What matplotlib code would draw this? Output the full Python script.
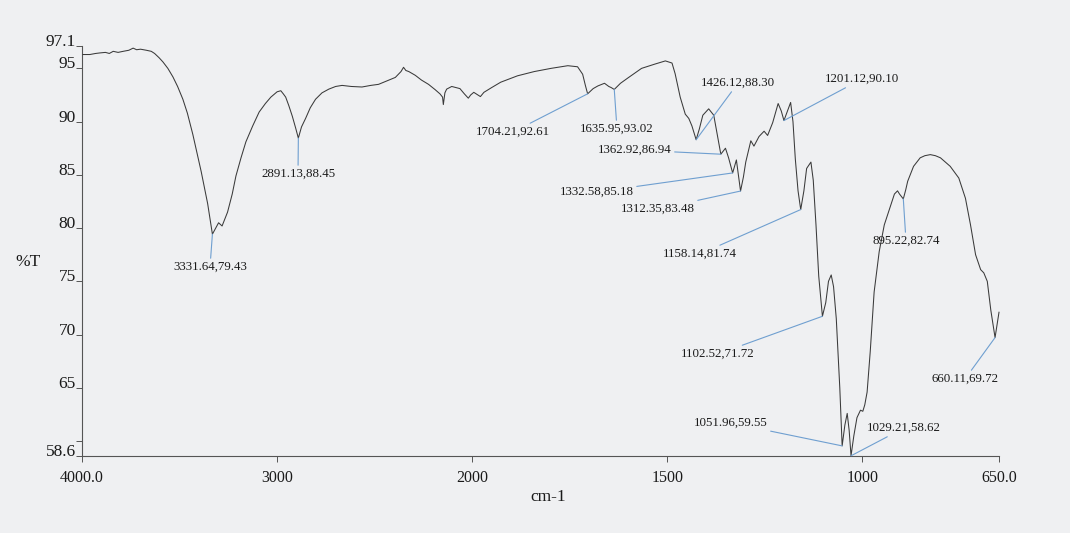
import numpy as np
import matplotlib
matplotlib.use("Agg")
import matplotlib.pyplot as plt

# ---- traced spectrum (wavenumber cm-1, %T) ----
wavenumber = [
    3995, 3960, 3930, 3908, 3880, 3860, 3840, 3815, 3789, 3760, 3738, 3720,
    3700, 3670, 3645, 3628, 3605, 3585, 3560, 3534, 3510, 3483, 3460, 3432,
    3410, 3389, 3370, 3356, 3345, 3300, 3282, 3254, 3230, 3211, 3185, 3160,
    3125, 3092, 3060, 3032, 3000, 2981, 2968, 2956, 2940, 2922, 2905, 2875,
    2854, 2830, 2803, 2770, 2735, 2700, 2667, 2620, 2565, 2520, 2480, 2440,
    2394, 2365, 2352, 2340, 2325, 2292, 2260, 2224, 2190, 2165, 2152, 2148,
    2140, 2131, 2105, 2085, 2063, 2040, 2020, 2008, 1996, 1979, 1970, 1950,
    1927, 1884, 1841, 1798, 1755, 1730, 1717, 1710, 1690, 1678, 1661, 1650,
    1644, 1620, 1601, 1566, 1532, 1505, 1488, 1480, 1467, 1454, 1445, 1437,
    1418, 1409, 1394, 1381, 1372, 1351, 1343, 1323, 1305, 1299, 1286, 1278,
    1265, 1252, 1243, 1230, 1216, 1208, 1193, 1184, 1178, 1172, 1165, 1150,
    1143, 1132, 1126, 1119, 1112, 1094, 1087, 1080, 1074, 1067, 1058, 1045,
    1039, 1034, 1022, 1014, 1005, 999, 994, 988, 980, 970, 957, 944,
    927, 918, 910, 905, 889, 884, 869, 852, 840, 826, 813, 800,
    775, 753, 736, 723, 710, 697, 689, 680, 671, 650,
]
transmittance = [
    96.3, 96.3, 96.4, 96.45, 96.5, 96.4, 96.6, 96.5, 96.6, 96.7, 96.9, 96.75,
    96.8, 96.7, 96.6, 96.4, 96.0, 95.6, 95.0, 94.2, 93.3, 92.1, 90.8, 88.8,
    87.0, 85.3, 83.6, 82.3, 81.0, 80.5, 80.2, 81.5, 83.2, 84.9, 86.6, 88.1,
    89.6, 90.9, 91.7, 92.3, 92.8, 92.9, 92.6, 92.3, 91.5, 90.5, 89.4, 89.5,
    90.3, 91.3, 92.1, 92.7, 93.05, 93.3, 93.4, 93.3, 93.25, 93.4, 93.5, 93.8,
    94.15, 94.7, 95.1, 94.8, 94.7, 94.35, 93.9, 93.5, 93.0, 92.6, 92.3, 91.6,
    92.7, 93.05, 93.3, 93.2, 93.1, 92.6, 92.2, 92.5, 92.75, 92.35, 92.75, 93.2,
    93.7, 94.3, 94.7, 95.0, 95.25, 95.15, 94.45, 93.4, 93.1, 93.35, 93.6, 93.3,
    93.2, 93.6, 94.1, 95.0, 95.4, 95.7, 95.5, 94.5, 92.3, 90.7, 90.3, 89.6,
    89.3, 90.6, 91.2, 90.6, 88.8, 87.5, 86.6, 86.4, 84.8, 86.2, 88.2, 87.7,
    88.6, 89.1, 88.7, 89.9, 91.7, 91.0, 90.9, 91.8, 90.0, 86.5, 83.5, 83.5,
    85.6, 86.2, 84.5, 80.3, 75.5, 73.0, 75.0, 75.6, 74.5, 71.5, 65.0, 61.5,
    62.6, 61.0, 60.5, 62.2, 62.9, 62.8, 63.4, 64.6, 68.4, 74.0, 77.8, 80.3,
    82.2, 83.2, 83.5, 83.2, 83.6, 84.4, 85.8, 86.6, 86.8, 86.9, 86.8, 86.6,
    85.8, 84.7, 82.8, 80.3, 77.5, 76.1, 75.8, 75.0, 72.3, 72.1,
]

# ---- labelled band positions ----
peak_wn = [3331.64, 2891.13, 1704.21, 1635.95, 1426.12, 1362.92, 1332.58,
           1312.35, 1201.12, 1158.14, 1102.52, 1051.96, 1029.21, 895.22, 660.11]
peak_T = [79.43, 88.45, 92.61, 93.02, 88.30, 86.94, 85.18,
          83.48, 90.10, 81.74, 71.72, 59.55, 58.62, 82.74, 69.72]

# label centres in figure pixels
label_pos = [(210, 266), (298, 359), (513, 401), (617, 404), (738, 450),
             (635, 383), (597, 341), (658, 324), (862, 454), (700, 279),
             (718, 179), (731, 110), (904, 105), (906, 292), (965, 154)]

xtick_vals = [4000, 3000, 2000, 1500, 1000, 650]
xtick_text = ["4000.0", "3000", "2000", "1500", "1000", "650.0"]
ytick_vals = [97.1, 95, 90, 85, 80, 75, 70, 65, 60, 58.6]
ytick_text = ["97.1", "95", "90", "85", "80", "75", "70", "65", "", "58.6"]

# merge band minima into the trace and sort by wavenumber
wn_all = np.array(wavenumber + peak_wn, dtype=float)
t_all = np.array(transmittance + peak_T, dtype=float)
order = np.argsort(wn_all)[::-1]
wn_all, t_all = wn_all[order], t_all[order]


# abscissa expanded 2x below 2000 cm-1
def fwd(x):
    x = np.asarray(x, dtype=float)
    return np.where(x >= 2000, x, 2 * x - 2000)


def inv(y):
    y = np.asarray(y, dtype=float)
    return np.where(y >= 2000, y, (y + 2000) / 2)


paper = "#eff0f2"
serif = ["Liberation Serif", "DejaVu Serif"]
plt.rcParams["font.family"] = serif

fig = plt.figure(figsize=(10.70, 5.33), dpi=100, facecolor=paper)
ax = fig.add_axes([82 / 1070, 1 - 456 / 533, (999 - 82) / 1070, (456 - 46) / 533])
ax.set_facecolor(paper)
ax.set_xscale("function", functions=(fwd, inv))

ax.plot(wn_all, t_all, color="#3a3a3a", lw=0.75, clip_on=False, zorder=3)

ax.set_xlim(4000, 650)
ax.set_ylim(58.6, 97.1)
for s in ("top", "right"):
    ax.spines[s].set_visible(False)
for s in ("left", "bottom"):
    ax.spines[s].set_color("#555555")
    ax.spines[s].set_linewidth(0.8)

ax.set_xticks(xtick_vals)
ax.set_xticklabels(xtick_text)
ax.xaxis.set_minor_locator(plt.NullLocator())
ax.set_yticks(ytick_vals)
ax.set_yticklabels(ytick_text)
ax.tick_params(axis="x", direction="out", length=4, width=0.7, color="#555555",
               pad=6, labelsize=11.5, labelcolor="#1a1a1a")
ax.tick_params(axis="y", direction="out", length=4, width=0.7, color="#555555",
               pad=0.5, labelsize=12.5, labelcolor="#1a1a1a")
for t in ax.get_yticklabels():
    t.set_verticalalignment("baseline")

fig.text(548 / 1070, 1 - 497 / 533, "cm-1", ha="center", va="center",
         fontsize=12.5, color="#1a1a1a")
fig.text(28 / 1070, 1 - 262 / 533, "%T", ha="center", va="center",
         fontsize=12.5, color="#1a1a1a")

for w, t, (px, py) in zip(peak_wn, peak_T, label_pos):
    ax.annotate(f"{w:.2f},{t:.2f}", xy=(w, t), xytext=(px, py),
                textcoords="figure pixels", ha="center", va="center",
                fontsize=9.3, color="#1a1a1a",
                arrowprops=dict(arrowstyle="-", color="#6f9fd0", lw=0.8,
                                shrinkA=0, shrinkB=0),
                annotation_clip=False, zorder=4)

fig.savefig("out.png", dpi=100, facecolor=paper)
